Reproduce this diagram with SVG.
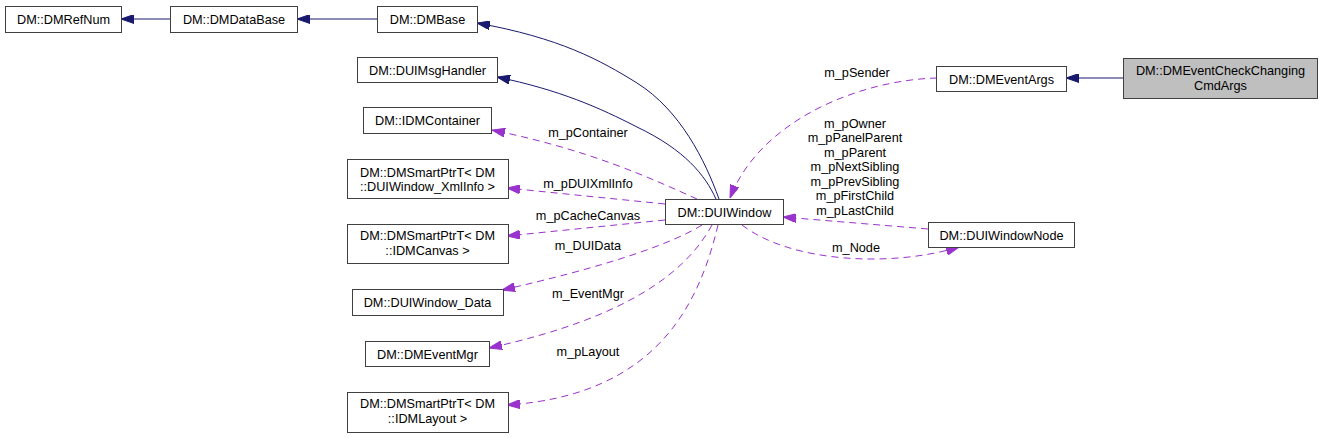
<svg xmlns="http://www.w3.org/2000/svg" width="1323" height="438" viewBox="0 0 1323 438">
<style>
text{font-family:"Liberation Sans",Arial,sans-serif;font-size:12.7px;fill:#000;text-anchor:middle}
.n rect{fill:#fff;stroke:#404040;stroke-width:1}
.n rect.root{fill:#bfbfbf}
.inh{fill:none;stroke:#191970;stroke-width:1}
.use{fill:none;stroke:#9a32cd;stroke-width:1;stroke-dasharray:7,5}
</style>
<defs>
<marker id="aN" viewBox="0 0 13 9" refX="13" refY="4.5" markerWidth="13" markerHeight="9" markerUnits="userSpaceOnUse" orient="auto">
<path d="M0,0 L13,4.5 L0,9 z" fill="#191970" stroke="#191970"/>
</marker>
<marker id="aP" viewBox="0 0 13 9" refX="13" refY="4.5" markerWidth="13" markerHeight="9" markerUnits="userSpaceOnUse" orient="auto">
<path d="M0,0 L13,4.5 L0,9 z" fill="#9a32cd" stroke="#9a32cd"/>
</marker>
</defs>
<g id="connectors">
<path class="inh" d="M170,19 L121,19" marker-end="url(#aN)"/>
<path class="inh" d="M377,19 L297,19" marker-end="url(#aN)"/>
<path class="inh" d="M719,199 C705,160 680,110 637,83 C600,60 560,38 477,23" marker-end="url(#aN)"/>
<path class="inh" d="M716,199 C705,175 685,150 637,127 C600,108 560,90 497,77" marker-end="url(#aN)"/>
<path class="inh" d="M1123,78 L1066,78" marker-end="url(#aN)"/>
<path class="use" d="M697,199 C650,178 590,150 492,130" marker-end="url(#aP)"/>
<path class="use" d="M665,204 L507,188" marker-end="url(#aP)"/>
<path class="use" d="M665,220 L507,236" marker-end="url(#aP)"/>
<path class="use" d="M702,225 C670,245 600,268 502,290" marker-end="url(#aP)"/>
<path class="use" d="M712,225 C690,265 640,315 489,348" marker-end="url(#aP)"/>
<path class="use" d="M718,225 C700,300 660,395 507,405" marker-end="url(#aP)"/>
<path class="use" d="M937,78 C860,80 760,120 730,198" marker-end="url(#aP)"/>
<path class="use" d="M928,229 L783,217" marker-end="url(#aP)"/>
<path class="use" d="M742,225 C790,262 890,268 959,247" marker-end="url(#aP)"/>
<text x="857" y="76.5">m_pSender</text>
<text x="588" y="136.5">m_pContainer</text>
<text x="588" y="187.5">m_pDUIXmlInfo</text>
<text x="588" y="219.5">m_pCacheCanvas</text>
<text x="588" y="249.5">m_DUIData</text>
<text x="588" y="297.5">m_EventMgr</text>
<text x="588" y="355.5">m_pLayout</text>
<text x="855" y="127.5">m_pOwner</text>
<text x="855" y="141.5">m_pPanelParent</text>
<text x="855" y="156.5">m_pParent</text>
<text x="855" y="171">m_pNextSibling</text>
<text x="855" y="185.5">m_pPrevSibling</text>
<text x="855" y="200">m_pFirstChild</text>
<text x="855" y="214.5">m_pLastChild</text>
<text x="856" y="251.5">m_Node</text>
</g>
<g id="node_DMRefNum" class="n"><rect x="5.5" y="6.5" width="116" height="26"/><text x="63.5" y="24">DM::DMRefNum</text></g>
<g id="node_DMDataBase" class="n"><rect x="170.5" y="6.5" width="127" height="26"/><text x="234" y="24">DM::DMDataBase</text></g>
<g id="node_DMBase" class="n"><rect x="377.5" y="6.5" width="100" height="26"/><text x="427.5" y="24">DM::DMBase</text></g>
<g id="node_DUIMsgHandler" class="n"><rect x="357.5" y="57.5" width="140" height="25"/><text x="427.5" y="74.5">DM::DUIMsgHandler</text></g>
<g id="node_IDMContainer" class="n"><rect x="363.5" y="107.5" width="128" height="26"/><text x="427.5" y="125">DM::IDMContainer</text></g>
<g id="node_XmlInfo" class="n"><rect x="347.5" y="159.5" width="161" height="39"/><text x="427.5" y="176.5">DM::DMSmartPtrT&lt; DM</text><text x="427.5" y="190.5">::DUIWindow_XmlInfo &gt;</text></g>
<g id="node_IDMCanvas" class="n"><rect x="347.5" y="224.5" width="161" height="39"/><text x="427.5" y="240">DM::DMSmartPtrT&lt; DM</text><text x="427.5" y="254.5">::IDMCanvas &gt;</text></g>
<g id="node_DUIWindow_Data" class="n"><rect x="352.5" y="289.5" width="151" height="26"/><text x="427.5" y="307">DM::DUIWindow_Data</text></g>
<g id="node_DMEventMgr" class="n"><rect x="365.5" y="341.5" width="124" height="25"/><text x="427.5" y="358.5">DM::DMEventMgr</text></g>
<g id="node_IDMLayout" class="n"><rect x="347.5" y="392.5" width="161" height="40"/><text x="427.5" y="408">DM::DMSmartPtrT&lt; DM</text><text x="427.5" y="422.5">::IDMLayout &gt;</text></g>
<g id="node_DUIWindow" class="n"><rect x="665.5" y="199.5" width="118" height="25"/><text x="724.5" y="216.5">DM::DUIWindow</text></g>
<g id="node_DUIWindowNode" class="n"><rect x="928.5" y="222.5" width="146" height="25"/><text x="1001.5" y="239.5">DM::DUIWindowNode</text></g>
<g id="node_DMEventArgs" class="n"><rect x="936.5" y="66.5" width="130" height="25"/><text x="1001.5" y="83.5">DM::DMEventArgs</text></g>
<g id="node_DMEventCheckChangingCmdArgs" class="n"><rect class="root" x="1123.5" y="58.5" width="194" height="40"/><text x="1220.5" y="75">DM::DMEventCheckChanging</text><text x="1220.5" y="89.5">CmdArgs</text></g>
</svg>
